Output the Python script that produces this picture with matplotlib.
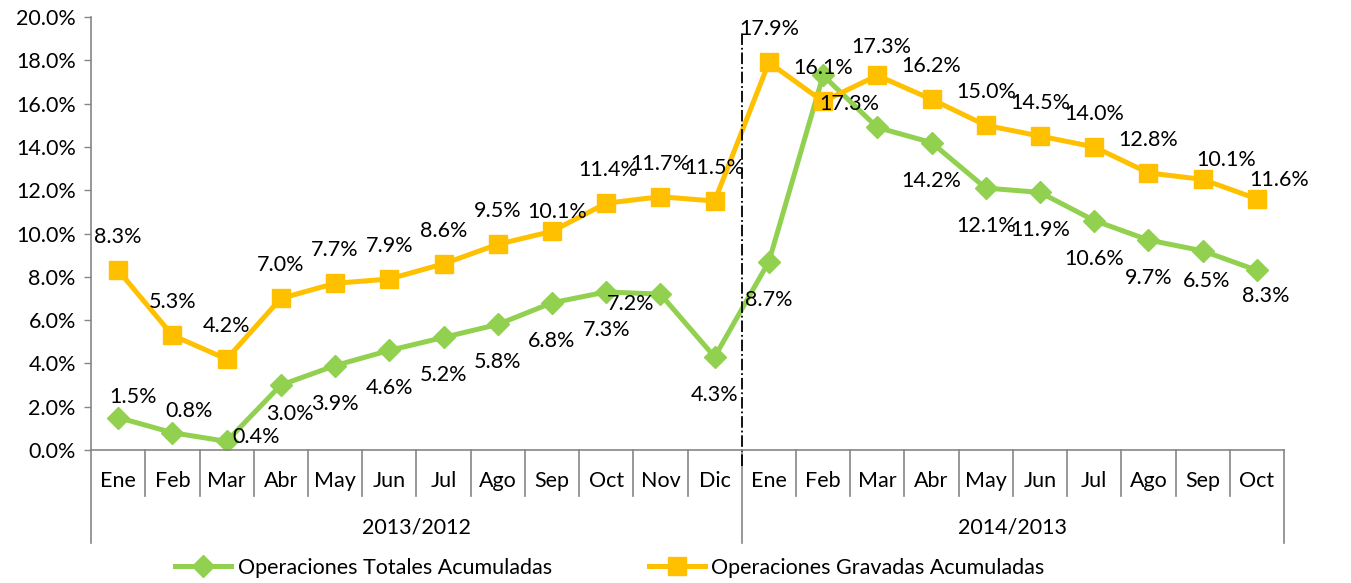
import matplotlib
matplotlib.use("Agg")
import matplotlib.pyplot as plt
import matplotlib.transforms as mtransforms
from matplotlib.ticker import FuncFormatter

plt.rcParams['font.family'] = ['Lato', 'DejaVu Sans']

# data
months = ['Ene', 'Feb', 'Mar', 'Abr', 'May', 'Jun', 'Jul', 'Ago', 'Sep', 'Oct', 'Nov', 'Dic',
          'Ene', 'Feb', 'Mar', 'Abr', 'May', 'Jun', 'Jul', 'Ago', 'Sep', 'Oct']
groups = ['2013/2012', '2014/2013']
group_sizes = [12, 10]

totales = [1.5, 0.8, 0.4, 3.0, 3.9, 4.6, 5.2, 5.8, 6.8, 7.3, 7.2, 4.3,
           8.7, 17.3, 14.9, 14.2, 12.1, 11.9, 10.6, 9.7, 9.2, 8.3]
gravadas = [8.3, 5.3, 4.2, 7.0, 7.7, 7.9, 8.6, 9.5, 10.1, 11.4, 11.7, 11.5,
            17.9, 16.1, 17.3, 16.2, 15.0, 14.5, 14.0, 12.8, 12.5, 11.6]

# data labels as printed on the chart
totales_labels = ['1.5%', '0.8%', '0.4%', '3.0%', '3.9%', '4.6%', '5.2%', '5.8%', '6.8%', '7.3%', '7.2%', '4.3%',
                  '8.7%', '17.3%', '', '14.2%', '12.1%', '11.9%', '10.6%', '9.7%', '6.5%', '8.3%']
gravadas_labels = ['8.3%', '5.3%', '4.2%', '7.0%', '7.7%', '7.9%', '8.6%', '9.5%', '10.1%', '11.4%', '11.7%', '11.5%',
                   '17.9%', '16.1%', '17.3%', '16.2%', '15.0%', '14.5%', '14.0%', '12.8%', '10.1%', '11.6%']

GREEN = '#92D050'
ORANGE = '#FFC000'
GREY = '#868686'
FS = 15.5

fig = plt.figure(figsize=(13.51, 5.83), dpi=100)
ax = fig.add_axes([0.0674, 0.2281, 0.8830, 0.7427])

x = list(range(len(months)))
ax.plot(x, totales, color=GREEN, lw=3.6, marker='D', markersize=11, label='Operaciones Totales Acumuladas')
ax.plot(x, gravadas, color=ORANGE, lw=3.6, marker='s', markersize=13, label='Operaciones Gravadas Acumuladas')

# label offsets in pixels (dx right, dy down), defaults + exceptions
grav_off = {8: (5, -19), 9: (2, -33), 14: (4, -28), 20: (24, -19), 21: (22, -19)}
tot_off = {0: (15, -21), 1: (17, -22), 2: (30, -4), 3: (9, 29), 10: (-30, 10),
           13: (26, 29), 20: (4, 30), 21: (9, 26)}

for i, lab in enumerate(gravadas_labels):
    dx, dy = grav_off.get(i, (0, -33))
    ax.annotate(lab, (i, gravadas[i]), xytext=(dx, -dy), textcoords='offset pixels',
                ha='center', va='center', fontsize=FS, annotation_clip=False)
for i, lab in enumerate(totales_labels):
    if not lab:
        continue
    dx, dy = tot_off.get(i, (0, 38))
    ax.annotate(lab, (i, totales[i]), xytext=(dx, -dy), textcoords='offset pixels',
                ha='center', va='center', fontsize=FS, annotation_clip=False)

ax.set_xlim(-0.5, len(months) - 0.5)
ax.set_ylim(0, 20)
ax.set_yticks(range(0, 21, 2))
ax.yaxis.set_major_formatter(FuncFormatter(lambda v, p: f'{v:.1f}%'))
ax.tick_params(axis='y', labelsize=FS, length=5, width=1, color=GREY, pad=6)
ax.set_xticks([])
for s in ['top', 'right']:
    ax.spines[s].set_visible(False)
for s in ['left', 'bottom']:
    ax.spines[s].set_color(GREY)
    ax.spines[s].set_linewidth(1.2)

# category axis: month labels, separators, group labels
trans = mtransforms.blended_transform_factory(ax.transData, ax.transAxes)
for i, m in enumerate(months):
    ax.text(i, -0.0716, m, transform=trans, ha='center', va='center', fontsize=FS)
bounds = [0]
for n in group_sizes:
    bounds.append(bounds[-1] + n)
for b in range(len(months) + 1):
    bottom = -0.215 if b in bounds else -0.106
    ax.plot([b - 0.5, b - 0.5], [0, bottom], transform=trans, color=GREY, lw=1.2, clip_on=False)
for g, name in enumerate(groups):
    mid = (bounds[g] + bounds[g + 1] - 1) / 2
    ax.text(mid, -0.180, name, transform=trans, ha='center', va='center', fontsize=FS)

# dash-dot separator between years
ax.plot([bounds[1] - 0.5] * 2, [-0.74, 19.3], color='black', lw=1.3, ls='-.', clip_on=False)

fig.legend(loc='center', bbox_to_anchor=(0.4515, 0.026), ncol=2, frameon=False,
           fontsize=FS, handlelength=2.6, columnspacing=4.5, handletextpad=0.3)

fig.savefig('out.png', dpi=100)
